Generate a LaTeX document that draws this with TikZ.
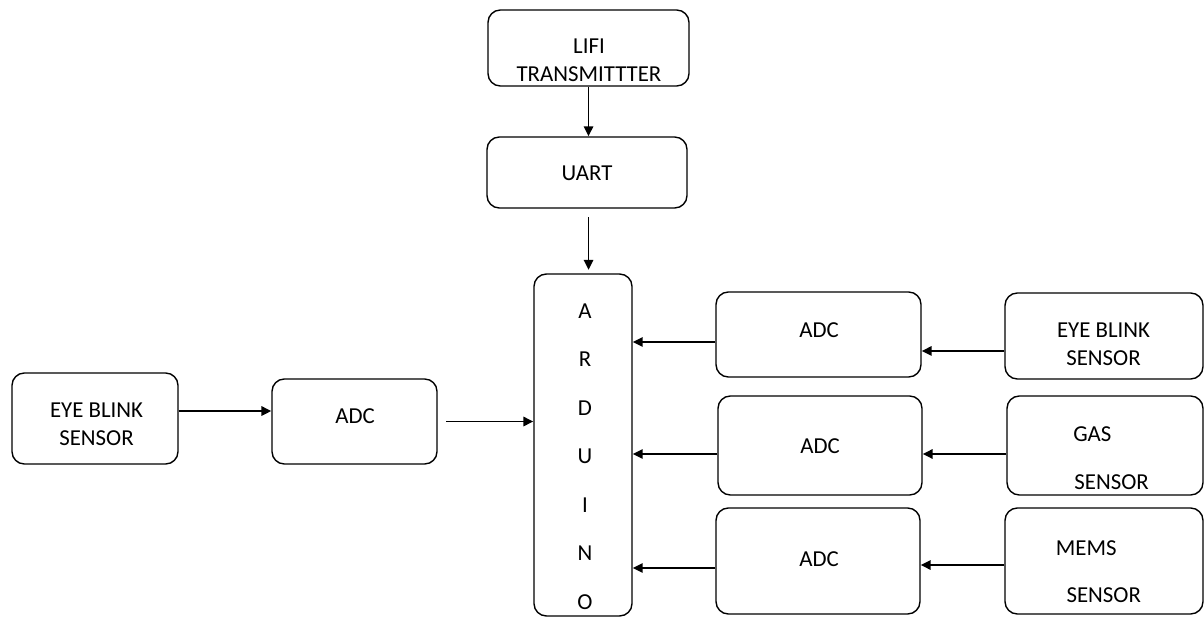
\documentclass[tikz,border=0pt]{standalone}
\usepackage{fontspec}
\setmainfont{Carlito}
\usetikzlibrary{arrows.meta,positioning,calc}

\tikzset{
  block/.style={draw, line width=0.8pt, rounded corners=7pt},
  txt/.style={align=center, inner sep=0pt, font=\fontsize{13}{15.9}\selectfont},
  arr/.style={line width=0.9pt, -{Triangle[length=0.2cm,width=0.19cm]}}
}

\begin{document}
\begin{tikzpicture}[x=0.02cm,y=-0.02cm]
\useasboundingbox (0,0) rectangle (1204,618);
% top chain
\node[block, minimum width=4.02cm, minimum height=1.52cm] (lifi) at (588.5,48) {};
\node[txt] (lifitxt) at (589,60) {LIFI\\TRANSMITTTER};
\node[block, minimum width=4cm, minimum height=1.42cm] (uart) at (587,172.5) {};
\node[txt] (uarttxt) at (587,173) {UART};
% controller
\node[block, minimum width=1.96cm, minimum height=6.84cm] (arduino) at (583,445) {};
\node[txt, font=\fontsize{13}{27.6}\selectfont] (ardtxt) at (585,456.5) {A\\R\\D\\U\\I\\N\\O};
% left side
\node[block, minimum width=3.32cm, minimum height=1.82cm] (eyeL) at (95,418.5) {};
\node[txt] (eyeLtxt) at (96.5,424) {EYE BLINK\\SENSOR};
\node[block, minimum width=3.3cm, minimum height=1.7cm] (adcL) at (354.5,421.5) {};
\node[txt] (adcLtxt) at (355,416) {ADC};
% right side
\node[block, minimum width=4.1cm, minimum height=1.7cm] (adcA) at (818.5,334.5) {};
\node[txt] (adcAtxt) at (819,330) {ADC};
\node[block, minimum width=4.08cm, minimum height=1.98cm] (adcB) at (820,445.5) {};
\node[txt] (adcBtxt) at (820,446) {ADC};
\node[block, minimum width=4.08cm, minimum height=2.12cm] (adcC) at (818,561) {};
\node[txt] (adcCtxt) at (819,559) {ADC};
\node[block, minimum width=3.96cm, minimum height=1.72cm] (eyeR) at (1104,336) {};
\node[txt] (eyeRtxt) at (1103.5,344.5) {EYE BLINK\\SENSOR};
\node[block, minimum width=3.92cm, minimum height=1.98cm] (gas) at (1105,445.5) {};
\node[txt] (gastxt) at (1102,458) {\hspace*{-11pt}GAS\\[11.4pt]\hspace*{11pt}SENSOR};
\node[block, minimum width=3.96cm, minimum height=2.12cm] (mems) at (1104,561) {};
\node[txt] (memstxt) at (1095,571.5) {\hspace*{-10pt}MEMS\\[11pt]\hspace*{10pt}SENSOR};
% connectors
\draw[arr] (lifi.south) -- (lifi.south |- uart.north);
\draw[arr, shorten <=5pt, shorten >=2pt] (lifi.south |- uart.south) -- (lifi.south |- arduino.north);
\draw[arr] ([yshift=0.15cm]eyeL.east) -- ([yshift=0.15cm]eyeL.east -| adcL.west);
\draw[arr, shorten <=5pt] (adcL.east) -- (adcL.east -| arduino.west);
\draw[arr] ([yshift=-0.15cm]adcA.west) -- ([yshift=-0.15cm]adcA.west -| arduino.east);
\draw[arr] ([yshift=-0.3cm]eyeR.west) -- ([yshift=-0.3cm]eyeR.west -| adcA.east);
\draw[arr] ([yshift=-0.17cm]adcB.west) -- ([yshift=-0.17cm]adcB.west -| arduino.east);
\draw[arr] ([yshift=-0.17cm]gas.west) -- ([yshift=-0.17cm]gas.west -| adcB.east);
\draw[arr] ([yshift=-0.14cm]adcC.west) -- ([yshift=-0.14cm]adcC.west -| arduino.east);
\draw[arr] ([yshift=-0.08cm]mems.west) -- ([yshift=-0.08cm]mems.west -| adcC.east);
\end{tikzpicture}
\end{document}
